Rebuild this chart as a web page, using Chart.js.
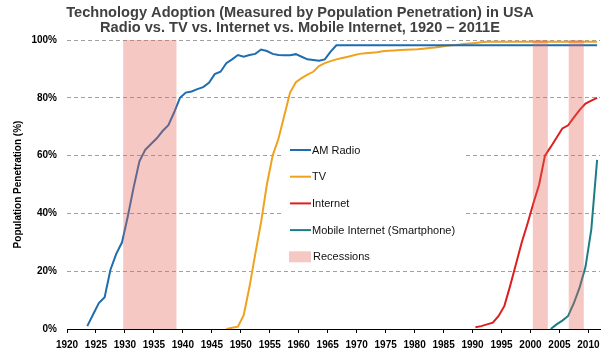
<!DOCTYPE html>
<html><head><meta charset="utf-8">
<script src="https://cdn.jsdelivr.net/npm/chart.js@4.4.0/dist/chart.umd.min.js"></script>
<style>html,body{margin:0;padding:0;background:#fff;}#wrap{width:615px;height:357px;}</style>
</head><body><div id="wrap"><canvas id="c" width="615" height="357"></canvas></div>
<script>
const titleLines = ['Technology Adoption (Measured by Population Penetration) in USA', 'Radio vs. TV vs. Internet vs. Mobile Internet, 1920 \u2013 2011E'];
const yAxisTitle = 'Population Penetration (%)';
const xTickLabels = ['1920','1925','1930','1935','1940','1945','1950','1955','1960','1965','1970','1975','1980','1985','1990','1995','2000','2005','2010'];
const yTickValues = [0,20,40,60,80,100];
const seriesNames = ['AM Radio','TV','Internet','Mobile Internet (Smartphone)'];
const recessionLabel = 'Recessions';

const amRadioStart = 1923;
const amRadio = [1,5,9,11,20.5,26,30,39,49,58,
  62,64,66,68.5,70.5,75,80,81.8,82.2,83,
  83.7,85.2,88.2,89,92,93.3,94.8,94.2,94.8,95.2,
  96.7,96.2,95.2,94.8,94.7,94.7,95.1,94.2,93.3,93.1,
  92.8,93.3,96,
  98.2,98.2,98.2,98.2,98.2,98.2,98.2,98.2,98.2,98.2,
  98.2,98.2,98.2,98.2,98.2,98.2,98.2,98.2,98.2,98.2,
  98.2,98.2,98.2,98.2,98.2,98.2,98.2,98.2,98.2,98.2,
  98.2,98.2,98.2,98.2,98.2,98.2,98.2,98.2,98.2,98.2,
  98.2,98.2,98.2,98.2,98.2,98.2];
const tvStart = 1947;
const tv = [0,0.4,0.8,4.8,14.6,26,37,50,60,65.8,
  73.8,81.8,85.4,86.8,88,89,91,92,92.7,93.3,
  93.8,94.2,94.7,95.2,95.4,95.6,95.8,96.1,96.3,96.4,
  96.5,96.6,96.7,96.8,97,97.2,97.4,97.7,98,98.2,
  98.4,98.6,98.8,99,99.2,
  99.4,99.4,99.4,99.4,99.4,99.4,99.4,99.4,99.4,99.4,
  99.4,99.4,99.4,99.4,99.4,99.4,99.4,99.4,99.4,99.4];
const internetStart = 1990;
const internet = [0.6,1,1.6,2.2,4.5,8,15,22.5,30,36.5,
  43.5,50,60,63,66.2,69.4,70.5,73.2,75.8,78,
  79,80];
const mobileStart = 2003;
const mobile = [0,1.6,2.9,4.5,9,14.5,21.5,34.5,58.5];
const recessions = [[1929.2,1938.4],[1999.9,2002.5],[2006.1,2008.7]];

const colors = ['#1f6cb0','#f0a21e','#dd1f1f','#1e7d84'];
const bandColor = 'rgba(226,98,84,0.35)';
const FONT = "'Liberation Sans', Arial, sans-serif";
const NARROW = "'Liberation Sans Narrow', 'Liberation Sans', Arial, sans-serif";

function pts(start, vals){ return vals.map((v,i)=>({x:start+i, y:v})); }

const legendBox = {x1:283, x2:465, y1:135, y2:267};

const bgPlugin = {
  id:'legendBg',
  beforeDatasetsDraw(chart){
    const c = chart.ctx; c.save(); c.fillStyle='#fff';
    c.fillRect(legendBox.x1, legendBox.y1, legendBox.x2-legendBox.x1, legendBox.y2-legendBox.y1);
    c.restore();
  }
};
const bandPlugin = {
  id:'bands',
  afterDatasetsDraw(chart){
    const c = chart.ctx, xs = chart.scales.x, ys = chart.scales.y;
    c.save(); c.fillStyle = bandColor;
    const top = ys.getPixelForValue(100), bot = ys.getPixelForValue(0);
    recessions.forEach(([s,e])=>{
      const a = xs.getPixelForValue(s), b = xs.getPixelForValue(e);
      c.fillRect(a, top, b-a, bot-top);
    });
    c.restore();
  }
};
const legendPlugin = {
  id:'customLegend',
  afterDraw(chart){
    const c = chart.ctx; c.save();
    c.font = '11px ' + FONT; c.textBaseline='middle'; c.fillStyle='#000';
    const y0 = 150, dy = 26.7;
    seriesNames.forEach((n,i)=>{
      const y = y0 + i*dy;
      c.strokeStyle = colors[i]; c.lineWidth = 2;
      c.beginPath(); c.moveTo(290,y); c.lineTo(311,y); c.stroke();
      c.fillStyle='#111'; c.fillText(n, 312, y+0.5);
    });
    const yr = y0 + 4*dy;
    c.fillStyle = bandColor; c.fillRect(289, yr-5.5, 22, 11);
    c.fillStyle = '#111'; c.fillText(recessionLabel, 313, yr+0.5);
    c.restore();
  }
};

new Chart(document.getElementById('c'), {
  type:'line',
  data:{datasets:[
    {label:seriesNames[0], data:pts(amRadioStart, amRadio), borderColor:colors[0]},
    {label:seriesNames[1], data:pts(tvStart, tv), borderColor:colors[1]},
    {label:seriesNames[2], data:pts(internetStart, internet), borderColor:colors[2]},
    {label:seriesNames[3], data:pts(mobileStart, mobile), borderColor:colors[3]}
  ]},
  options:{
    responsive:false, animation:false,
    elements:{line:{borderWidth:2, tension:0}, point:{radius:0}},
    layout:{padding:{left:0,right:15,top:0,bottom:0}},
    plugins:{
      legend:{display:false}, tooltip:{enabled:false},
      title:{display:true, text:titleLines, color:'#404040',
        font:{family:FONT, size:14.6, weight:'bold', lineHeight:15/14.6}, padding:{top:5,bottom:5}}
    },
    scales:{
      x:{type:'linear', min:1919.5, max:2011.5,
        afterBuildTicks:s=>{ s.ticks = xTickLabels.map(l=>({value:Number(l)-0.5})); },
        ticks:{callback:(v,i)=>xTickLabels[i], color:'#000', font:{family:NARROW, size:10, weight:'bold'}, padding:6, maxRotation:0, autoSkip:false},
        grid:{drawOnChartArea:false, drawTicks:true, tickLength:4, color:'#000'},
        border:{display:true, color:'#000', width:1},
        afterFit:s=>{ s.height = 28; }
      },
      y:{min:0, max:100,
        afterBuildTicks:s=>{ s.ticks = yTickValues.map(v=>({value:v})); },
        ticks:{callback:v=>v+'%', color:'#000', font:{family:FONT, size:10, weight:'bold'}, padding:10},
        grid:{color:c=> c.tick && c.tick.value===0 ? 'rgba(0,0,0,0)' : '#a0a0a0', drawTicks:false, lineWidth:1},
        border:{display:false, dash:[4,3]},
        title:{display:true, text:yAxisTitle, color:'#000', font:{family:FONT, size:10, weight:'bold'}, padding:{top:12,bottom:0}},
        afterFit:s=>{ s.width = 67; }
      }
    }
  },
  plugins:[bgPlugin, bandPlugin, legendPlugin]
});
</script></body></html>
